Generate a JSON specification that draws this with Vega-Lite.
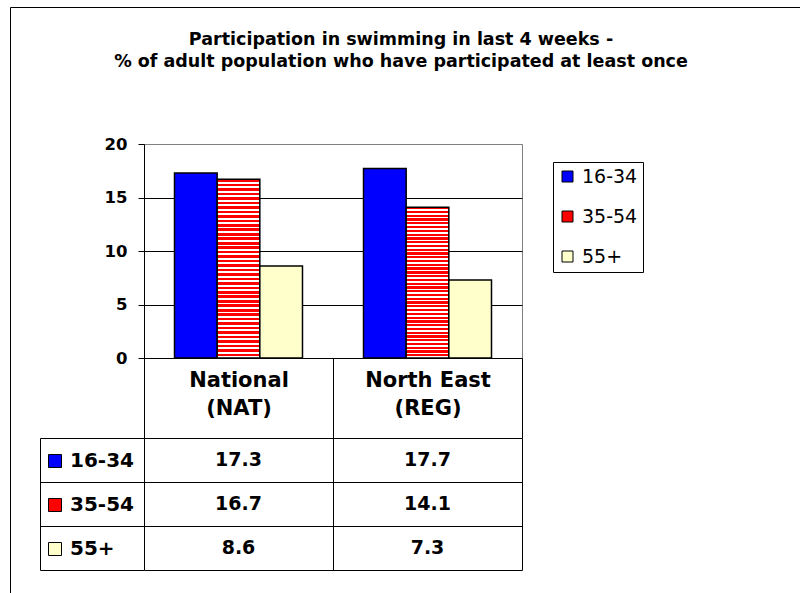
{
  "$schema": "https://vega.github.io/schema/vega-lite/v6.json",
  "background": "white",
  "autosize": {"type": "pad"},
  "padding": {"left": 9, "top": 6, "right": 0, "bottom": 0},
  "config": {"view": {"stroke": null}},
  "title": {
    "text": ["Participation in swimming in last 4 weeks -", "% of adult population who have participated at least once"],
    "anchor": "middle",
    "frame": "group",
    "dx": 68,
    "font": "DejaVu Sans",
    "fontSize": 17.5,
    "fontWeight": "bold",
    "color": "black",
    "lineHeight": 22,
    "offset": -63.5
  },
  "data": {
    "values": [
      {"region": "National (NAT)", "age": "16-34", "value": 17.3},
      {"region": "National (NAT)", "age": "35-54", "value": 16.7},
      {"region": "National (NAT)", "age": "55+", "value": 8.6},
      {"region": "North East (REG)", "age": "16-34", "value": 17.7},
      {"region": "North East (REG)", "age": "35-54", "value": 14.1},
      {"region": "North East (REG)", "age": "55+", "value": 7.3}
    ]
  },
  "bounds": "flush",
  "spacing": 80,
  "resolve": {"legend": {"color": "independent"}},
  "vconcat": [
    {
      "width": 378,
      "height": 214,
      "view": {"stroke": "#808080", "strokeWidth": 1},
      "mark": {"type": "bar", "stroke": "black", "strokeWidth": 1.5},
      "encoding": {
        "x": {
          "field": "region", "type": "nominal", "sort": null,
          "scale": {"paddingInner": 0, "paddingOuter": 0},
          "axis": {
            "title": null, "orient": "bottom", "labelAngle": 0, "grid": false,
            "domainColor": "black", "tickColor": "black", "tickBand": "extent", "tickSize": 80,
            "labelPadding": -69, "labelBaseline": "top",
            "labelFont": "DejaVu Sans", "labelFontWeight": "bold", "labelFontSize": 21, "labelColor": "black",
            "labelLineHeight": 28, "labelLimit": 300,
            "labelExpr": "split(replace(datum.label, ' (', '|('), '|')"
          }
        },
        "xOffset": {
          "field": "age", "type": "nominal", "sort": null,
          "scale": {"paddingInner": 0, "paddingOuter": 0.715}
        },
        "y": {
          "field": "value", "type": "quantitative",
          "scale": {"domain": [0, 20], "nice": false},
          "axis": {
            "title": null, "values": [0, 5, 10, 15, 20],
            "domainColor": "black", "tickColor": "black", "tickSize": 6, "labelPadding": 11,
            "labelFont": "DejaVu Sans", "labelFontWeight": "bold", "labelFontSize": 16.5, "labelColor": "black",
            "grid": true, "gridOpacity": 1,
            "gridColor": {"condition": {"test": "datum.value === 20", "value": "#808080"}, "value": "black"}
          }
        },
        "color": {
          "field": "age", "type": "nominal", "sort": null,
          "scale": {"domain": ["16-34", "35-54", "55+"], "range": ["#0000ff", "#ff0000", "#ffffcc"]},
          "condition": {
            "test": "datum.age === '35-54'",
            "value": {"gradient": "linear", "x1": 0, "y1": 0, "x2": 0, "y2": 1, "stops": [
              {"offset": 0, "color": "red"}, {"offset": 0.015, "color": "red"}, {"offset": 0.015, "color": "white"}, {"offset": 0.025, "color": "white"},
              {"offset": 0.025, "color": "red"}, {"offset": 0.04, "color": "red"}, {"offset": 0.04, "color": "white"}, {"offset": 0.05, "color": "white"},
              {"offset": 0.05, "color": "red"}, {"offset": 0.065, "color": "red"}, {"offset": 0.065, "color": "white"}, {"offset": 0.075, "color": "white"},
              {"offset": 0.075, "color": "red"}, {"offset": 0.09, "color": "red"}, {"offset": 0.09, "color": "white"}, {"offset": 0.1, "color": "white"},
              {"offset": 0.1, "color": "red"}, {"offset": 0.115, "color": "red"}, {"offset": 0.115, "color": "white"}, {"offset": 0.125, "color": "white"},
              {"offset": 0.125, "color": "red"}, {"offset": 0.14, "color": "red"}, {"offset": 0.14, "color": "white"}, {"offset": 0.15, "color": "white"},
              {"offset": 0.15, "color": "red"}, {"offset": 0.165, "color": "red"}, {"offset": 0.165, "color": "white"}, {"offset": 0.175, "color": "white"},
              {"offset": 0.175, "color": "red"}, {"offset": 0.19, "color": "red"}, {"offset": 0.19, "color": "white"}, {"offset": 0.2, "color": "white"},
              {"offset": 0.2, "color": "red"}, {"offset": 0.215, "color": "red"}, {"offset": 0.215, "color": "white"}, {"offset": 0.225, "color": "white"},
              {"offset": 0.225, "color": "red"}, {"offset": 0.24, "color": "red"}, {"offset": 0.24, "color": "white"}, {"offset": 0.25, "color": "white"},
              {"offset": 0.25, "color": "red"}, {"offset": 0.265, "color": "red"}, {"offset": 0.265, "color": "white"}, {"offset": 0.275, "color": "white"},
              {"offset": 0.275, "color": "red"}, {"offset": 0.29, "color": "red"}, {"offset": 0.29, "color": "white"}, {"offset": 0.3, "color": "white"},
              {"offset": 0.3, "color": "red"}, {"offset": 0.315, "color": "red"}, {"offset": 0.315, "color": "white"}, {"offset": 0.325, "color": "white"},
              {"offset": 0.325, "color": "red"}, {"offset": 0.34, "color": "red"}, {"offset": 0.34, "color": "white"}, {"offset": 0.35, "color": "white"},
              {"offset": 0.35, "color": "red"}, {"offset": 0.365, "color": "red"}, {"offset": 0.365, "color": "white"}, {"offset": 0.375, "color": "white"},
              {"offset": 0.375, "color": "red"}, {"offset": 0.39, "color": "red"}, {"offset": 0.39, "color": "white"}, {"offset": 0.4, "color": "white"},
              {"offset": 0.4, "color": "red"}, {"offset": 0.415, "color": "red"}, {"offset": 0.415, "color": "white"}, {"offset": 0.425, "color": "white"},
              {"offset": 0.425, "color": "red"}, {"offset": 0.44, "color": "red"}, {"offset": 0.44, "color": "white"}, {"offset": 0.45, "color": "white"},
              {"offset": 0.45, "color": "red"}, {"offset": 0.465, "color": "red"}, {"offset": 0.465, "color": "white"}, {"offset": 0.475, "color": "white"},
              {"offset": 0.475, "color": "red"}, {"offset": 0.49, "color": "red"}, {"offset": 0.49, "color": "white"}, {"offset": 0.5, "color": "white"},
              {"offset": 0.5, "color": "red"}, {"offset": 0.515, "color": "red"}, {"offset": 0.515, "color": "white"}, {"offset": 0.525, "color": "white"},
              {"offset": 0.525, "color": "red"}, {"offset": 0.54, "color": "red"}, {"offset": 0.54, "color": "white"}, {"offset": 0.55, "color": "white"},
              {"offset": 0.55, "color": "red"}, {"offset": 0.565, "color": "red"}, {"offset": 0.565, "color": "white"}, {"offset": 0.575, "color": "white"},
              {"offset": 0.575, "color": "red"}, {"offset": 0.59, "color": "red"}, {"offset": 0.59, "color": "white"}, {"offset": 0.6, "color": "white"},
              {"offset": 0.6, "color": "red"}, {"offset": 0.615, "color": "red"}, {"offset": 0.615, "color": "white"}, {"offset": 0.625, "color": "white"},
              {"offset": 0.625, "color": "red"}, {"offset": 0.64, "color": "red"}, {"offset": 0.64, "color": "white"}, {"offset": 0.65, "color": "white"},
              {"offset": 0.65, "color": "red"}, {"offset": 0.665, "color": "red"}, {"offset": 0.665, "color": "white"}, {"offset": 0.675, "color": "white"},
              {"offset": 0.675, "color": "red"}, {"offset": 0.69, "color": "red"}, {"offset": 0.69, "color": "white"}, {"offset": 0.7, "color": "white"},
              {"offset": 0.7, "color": "red"}, {"offset": 0.715, "color": "red"}, {"offset": 0.715, "color": "white"}, {"offset": 0.725, "color": "white"},
              {"offset": 0.725, "color": "red"}, {"offset": 0.74, "color": "red"}, {"offset": 0.74, "color": "white"}, {"offset": 0.75, "color": "white"},
              {"offset": 0.75, "color": "red"}, {"offset": 0.765, "color": "red"}, {"offset": 0.765, "color": "white"}, {"offset": 0.775, "color": "white"},
              {"offset": 0.775, "color": "red"}, {"offset": 0.79, "color": "red"}, {"offset": 0.79, "color": "white"}, {"offset": 0.8, "color": "white"},
              {"offset": 0.8, "color": "red"}, {"offset": 0.815, "color": "red"}, {"offset": 0.815, "color": "white"}, {"offset": 0.825, "color": "white"},
              {"offset": 0.825, "color": "red"}, {"offset": 0.84, "color": "red"}, {"offset": 0.84, "color": "white"}, {"offset": 0.85, "color": "white"},
              {"offset": 0.85, "color": "red"}, {"offset": 0.865, "color": "red"}, {"offset": 0.865, "color": "white"}, {"offset": 0.875, "color": "white"},
              {"offset": 0.875, "color": "red"}, {"offset": 0.89, "color": "red"}, {"offset": 0.89, "color": "white"}, {"offset": 0.9, "color": "white"},
              {"offset": 0.9, "color": "red"}, {"offset": 0.915, "color": "red"}, {"offset": 0.915, "color": "white"}, {"offset": 0.925, "color": "white"},
              {"offset": 0.925, "color": "red"}, {"offset": 0.94, "color": "red"}, {"offset": 0.94, "color": "white"}, {"offset": 0.95, "color": "white"},
              {"offset": 0.95, "color": "red"}, {"offset": 0.965, "color": "red"}, {"offset": 0.965, "color": "white"}, {"offset": 0.975, "color": "white"},
              {"offset": 0.975, "color": "red"}, {"offset": 0.99, "color": "red"}, {"offset": 0.99, "color": "white"}, {"offset": 1, "color": "white"}
            ]}
          },
          "legend": {
            "title": null, "orient": "none", "legendX": 409, "legendY": 18,
            "strokeColor": "black", "fillColor": "white", "padding": 5,
            "symbolType": "square", "symbolSize": 121, "symbolStrokeColor": "black", "symbolStrokeWidth": 1, "symbolOpacity": 1,
            "labelFont": "DejaVu Sans", "labelFontSize": 19, "labelColor": "black", "labelOffset": 5, "rowPadding": 20
          }
        }
      }
    },
    {
      "width": 378,
      "height": 132,
      "layer": [
        {
          "mark": {"type": "text", "font": "DejaVu Sans", "fontWeight": "bold", "fontSize": 19, "color": "black", "baseline": "middle", "align": "center"},
          "encoding": {
            "x": {
              "field": "region", "type": "nominal", "sort": null,
              "scale": {"paddingInner": 0, "paddingOuter": 0},
              "axis": {"title": null, "orient": "top", "labels": false, "ticks": false, "domain": false, "grid": true, "gridColor": "black", "gridOpacity": 1, "tickBand": "extent"}
            },
            "y": {
              "field": "age", "type": "nominal", "sort": null,
              "scale": {"paddingInner": 0, "paddingOuter": 0},
              "axis": {"title": null, "orient": "left", "offset": 104, "labels": false, "domain": true, "domainColor": "black", "ticks": true, "tickColor": "black", "tickSize": -104, "tickBand": "extent", "grid": true, "gridColor": "black", "gridOpacity": 1}
            },
            "text": {"field": "value", "type": "quantitative", "format": ".1f"}
          }
        },
        {
          "mark": {"type": "point", "filled": true, "opacity": 0},
          "encoding": {
            "y": {"field": "age", "type": "nominal", "sort": null},
            "color": {
              "field": "age", "type": "nominal", "sort": null,
              "legend": {
                "title": null, "orient": "none", "legendX": -99, "legendY": 13, "padding": 0,
                "symbolType": "square", "symbolSize": 169, "symbolStrokeColor": "black", "symbolStrokeWidth": 1, "symbolOpacity": 1,
                "labelFont": "DejaVu Sans", "labelFontWeight": "bold", "labelFontSize": 20, "labelColor": "black", "labelOffset": 5, "rowPadding": 24
              }
            },
            "shape": {
              "datum": "frame",
              "legend": {
                "title": null, "orient": "none", "legendX": -134, "legendY": -137, "padding": 400,
                "strokeColor": "black", "symbolOpacity": 0, "labelOpacity": 0
              }
            }
          }
        }
      ]
    }
  ]
}
